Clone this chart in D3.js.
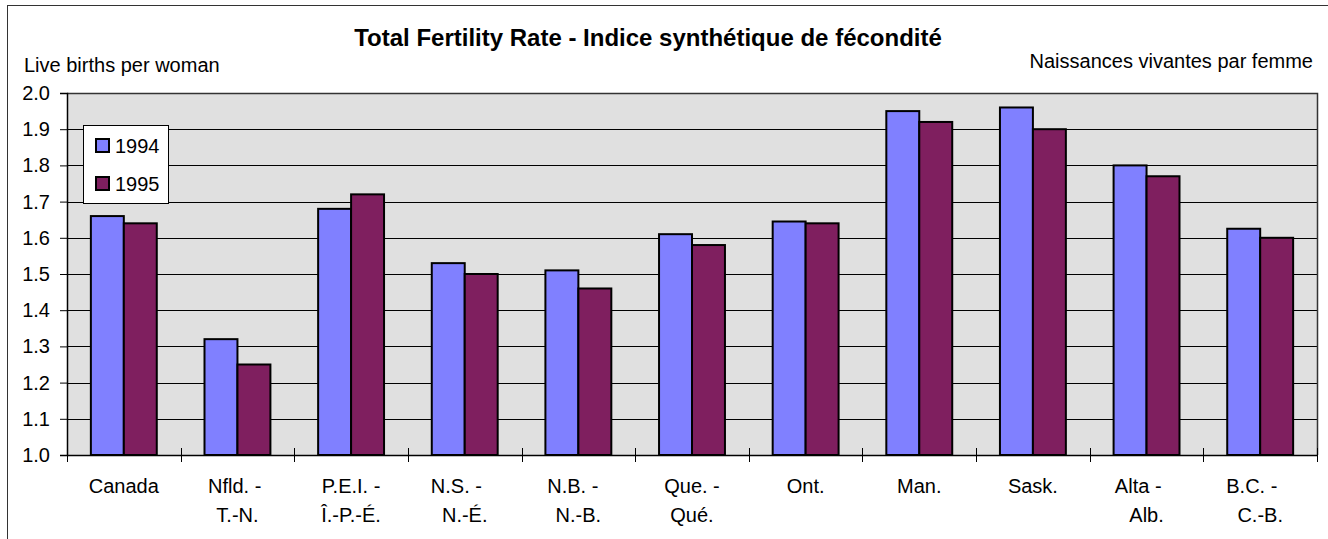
<!DOCTYPE html>
<html><head><meta charset="utf-8">
<script src="https://cdn.jsdelivr.net/npm/d3@7"></script>
<style>
body{margin:0;background:#fff}
svg text{font-family:"Liberation Sans",Arial,sans-serif;fill:#000}
.cat{white-space:pre}
</style>
</head><body>
<svg id="c" width="1328" height="539"></svg>
<script>
// ---- data ----
const categories = ["Canada", "Nfld. - \nT.-N.", "P.E.I. -\nÎ.-P.-É.", "N.S. -   \nN.-É.", "N.B. -  \nN.-B.", "Que. -\nQué.", "Ont.", "Man.", "Sask.", "Alta -   \nAlb.", "B.C. -   \nC.-B."];
const series = ["1994", "1995"];
const values1994 = [1.66, 1.32, 1.68, 1.53, 1.51, 1.61, 1.645, 1.95, 1.96, 1.80, 1.625];
const values1995 = [1.64, 1.25, 1.72, 1.50, 1.46, 1.58, 1.64, 1.92, 1.90, 1.77, 1.60];
const yTickValues = [1.0, 1.1, 1.2, 1.3, 1.4, 1.5, 1.6, 1.7, 1.8, 1.9, 2.0];
const titleText = "Total Fertility Rate - Indice synthétique de fécondité";
const leftLabel = "Live births per woman";
const rightLabel = "Naissances vivantes par femme";
const colors = ["#8080FF", "#7F1F5F"];

// ---- layout ----
const svg = d3.select("#c");
const plot = {left: 67, right: 1317, top: 93, bottom: 455};

const x0 = d3.scaleBand().domain(categories).range([plot.left, plot.right]).paddingInner(0).paddingOuter(0);
const bw = x0.bandwidth();
const x1 = d3.scaleBand().domain(series).range([bw * 0.21, bw * 0.79]).padding(0);
const y = d3.scaleLinear().domain([1.0, 2.0]).range([plot.bottom, plot.top]);

const data = categories.map((c, i) => ({cat: c, vals: [
  {s: series[0], v: values1994[i]},
  {s: series[1], v: values1995[i]}
]}));

// outer frame
svg.append("rect").attr("x", 7.5).attr("y", 5.5).attr("width", 1340).attr("height", 560)
  .attr("fill", "none").attr("stroke", "#333").attr("stroke-width", 1);

// plot background
svg.append("rect").attr("x", plot.left).attr("y", plot.top)
  .attr("width", plot.right - plot.left).attr("height", plot.bottom - plot.top)
  .attr("fill", "#E0E0E0");

// gridlines
svg.append("g").selectAll("line").data(yTickValues.filter(d => d > 1.0 && d < 2.0)).join("line")
  .attr("x1", plot.left).attr("x2", plot.right)
  .attr("y1", d => Math.round(y(d)) + 0.5).attr("y2", d => Math.round(y(d)) + 0.5)
  .attr("stroke", "#000").attr("stroke-width", 1);

// plot border top/right
svg.append("path")
  .attr("d", `M${plot.left},${plot.top + 0.5}H${plot.right + 0.5}V${plot.bottom}`)
  .attr("fill", "none").attr("stroke", "#333").attr("stroke-width", 1.5);

// bars
const groups = svg.append("g").selectAll("g").data(data).join("g")
  .attr("transform", d => `translate(${x0(d.cat)},0)`);
groups.selectAll("rect").data(d => d.vals).join("rect")
  .attr("x", d => x1(d.s))
  .attr("y", d => y(d.v))
  .attr("width", x1.bandwidth())
  .attr("height", d => y(1.0) - y(d.v))
  .attr("fill", (d, i) => colors[i])
  .attr("stroke", "#000").attr("stroke-width", 2);

// y axis
const yAxis = svg.append("g").attr("transform", `translate(${plot.left},0)`)
  .call(d3.axisLeft(y).tickValues(yTickValues).tickFormat(d3.format(".1f")).tickSize(7).tickPadding(10));
yAxis.select(".domain").attr("stroke", "#000").attr("stroke-width", 1.5);
yAxis.selectAll(".tick line").attr("stroke", "#000");
yAxis.selectAll(".tick text").style("font-size", "20px").attr("font-family", null);

// x axis line + crossing ticks at band boundaries
svg.append("line").attr("x1", plot.left).attr("x2", plot.right + 1)
  .attr("y1", plot.bottom + 0.5).attr("y2", plot.bottom + 0.5)
  .attr("stroke", "#000").attr("stroke-width", 1.5);
const boundaries = categories.map(c => x0(c)).concat([x0.range()[1]]);
svg.append("g").selectAll("line").data(boundaries).join("line")
  .attr("x1", d => Math.round(d) + 0.5).attr("x2", d => Math.round(d) + 0.5)
  .attr("y1", plot.bottom - 7).attr("y2", plot.bottom + 7)
  .attr("stroke", "#000").attr("stroke-width", 1);

// category labels
const catG = svg.append("g").selectAll("text").data(categories).join("text")
  .attr("class", "cat")
  .attr("text-anchor", "middle")
  .style("font-size", "20px");
catG.each(function(c) {
  const lines = c.split("\n");
  const t = d3.select(this);
  lines.forEach((ln, k) => {
    t.append("tspan").attr("x", x0(c) + bw / 2).attr("y", 493 + k * 29).text(ln);
  });
});

// title and axis labels
svg.append("text").attr("x", 648).attr("y", 46).attr("text-anchor", "middle")
  .style("font-size", "24px").style("font-weight", "bold").text(titleText);
svg.append("text").attr("x", 24).attr("y", 72).style("font-size", "20px").text(leftLabel);
svg.append("text").attr("x", 1313).attr("y", 68).attr("text-anchor", "end").style("font-size", "20px").text(rightLabel);

// legend
const lg = svg.append("g");
lg.append("rect").attr("x", 83.5).attr("y", 125.5).attr("width", 85).attr("height", 78)
  .attr("fill", "#fff").attr("stroke", "#000").attr("stroke-width", 1);
series.forEach((s, i) => {
  lg.append("rect").attr("x", 96).attr("y", 139 + i * 38).attr("width", 13).attr("height", 13)
    .attr("fill", colors[i]).attr("stroke", "#000").attr("stroke-width", 2);
  lg.append("text").attr("x", 115).attr("y", 153 + i * 38).style("font-size", "20px").text(s);
});
</script>
</body></html>
